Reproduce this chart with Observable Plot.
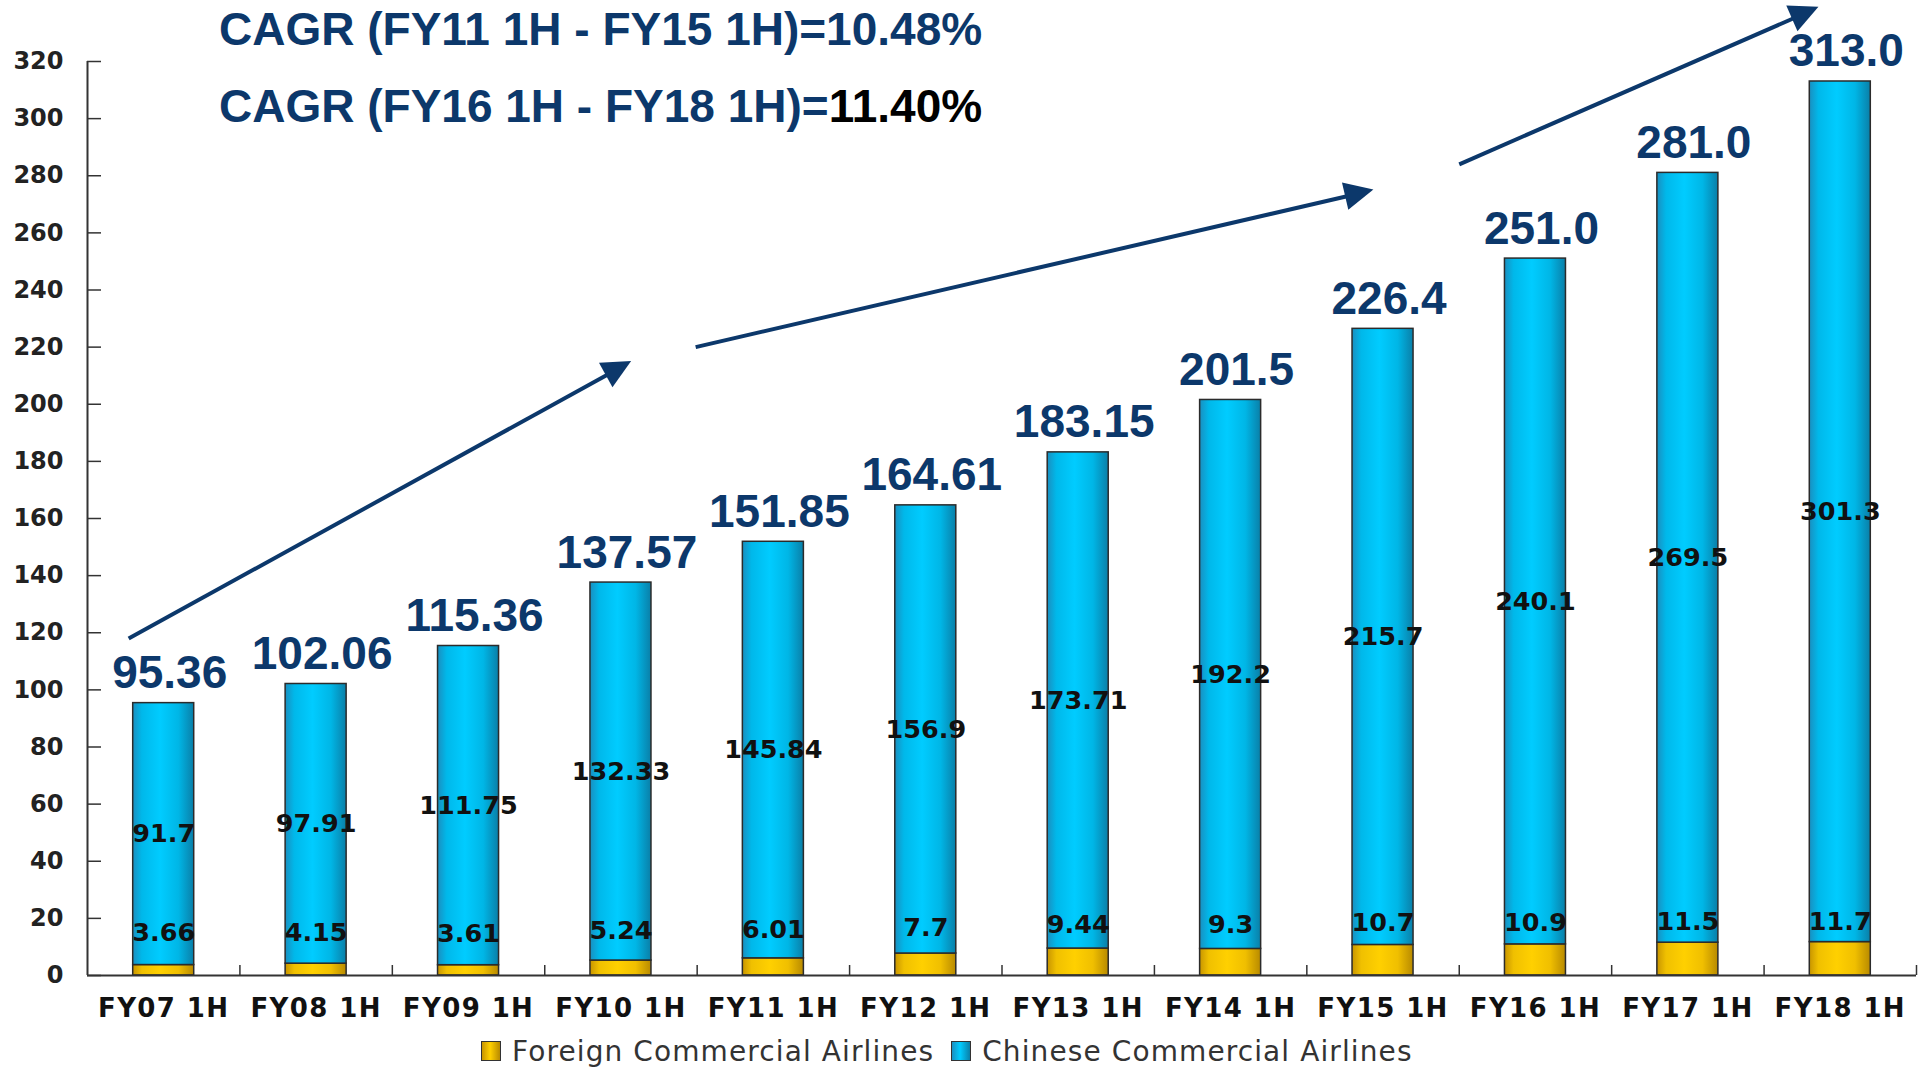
<!DOCTYPE html>
<html>
<head>
<meta charset="utf-8">
<script src="https://cdn.jsdelivr.net/npm/d3@7"></script>
<script src="https://cdn.jsdelivr.net/npm/@observablehq/plot@0.6"></script>
<style>
  body { margin: 0; background: #fff; }
  #wrap { position: relative; width: 1921px; height: 1072px; overflow: hidden; }
  .title { position: absolute; left: 219px; font-family: "Liberation Sans", Arial, sans-serif; font-weight: bold;
           font-size: 46px; line-height: 46px; color: #0c386b; white-space: nowrap; }
  #legend { position: absolute; left: 0; top: 1030px; height: 42px; display: flex; align-items: center;
            padding-left: 481px; font-family: "DejaVu Sans", sans-serif; font-size: 28px; letter-spacing: 1.1px; color: #333; }
  .sw { width: 20px; height: 20px; border: 1.5px solid #333; box-sizing: border-box; margin-right: 11px; }
  .gold { background: linear-gradient(90deg, #c89500, #ffd000 45%, #b88a00); }
  .cyan { background: linear-gradient(90deg, #1a8fc0, #00ccff 45%, #0a7fa8); }
</style>
</head>
<body>
<div id="wrap">
  <div class="title" style="top:6px">CAGR (FY11 1H - FY15 1H)=10.48%</div>
  <div class="title" style="top:83px">CAGR (FY16 1H - FY18 1H)=<span style="color:#000">11.40%</span></div>
  <div id="legend">
    <div class="sw gold"></div><span>Foreign Commercial Airlines</span>
    <div class="sw cyan" style="margin-left:17px"></div><span>Chinese Commercial Airlines</span>
  </div>
</div>
<script>
const categories = ["FY07 1H","FY08 1H","FY09 1H","FY10 1H","FY11 1H","FY12 1H","FY13 1H","FY14 1H","FY15 1H","FY16 1H","FY17 1H","FY18 1H"];
const foreign = [3.66, 4.15, 3.61, 5.24, 6.01, 7.7, 9.44, 9.3, 10.7, 10.9, 11.5, 11.7];
const chinese = [91.7, 97.91, 111.75, 132.33, 145.84, 156.9, 173.71, 192.2, 215.7, 240.1, 269.5, 301.3];
const foreignLabels = ["3.66","4.15","3.61","5.24","6.01","7.7","9.44","9.3","10.7","10.9","11.5","11.7"];
const chineseLabels = ["91.7","97.91","111.75","132.33","145.84","156.9","173.71","192.2","215.7","240.1","269.5","301.3"];
const totalLabels = ["95.36","102.06","115.36","137.57","151.85","164.61","183.15","201.5","226.4","251.0","281.0","313.0"];
const yTicks = [0,20,40,60,80,100,120,140,160,180,200,220,240,260,280,300,320];
const categoryPositions = [1,2,3,4,5,6,7,8,9,10,11,12];
const separatorPositions = [1.5,2.5,3.5,4.5,5.5,6.5,7.5,8.5,9.5,10.5,11.5,12.5];
// trend arrows, in data units (category position, value)
const arrowStartX = [0.77, 4.49, 9.5];
const arrowStartY = [118, 220, 284];
const arrowEndX = [4.07, 8.94, 11.86];
const arrowEndY = [215, 275, 339];

const rows = categories.map((c, i) => ({
  cat: c, pos: categoryPositions[i], foreign: foreign[i], chinese: chinese[i],
  total: foreign[i] + chinese[i], fl: foreignLabels[i], cl: chineseLabels[i], tl: totalLabels[i]
}));
const arrows = arrowStartX.map((x, i) => ({x1: x, y1: arrowStartY[i], x2: arrowEndX[i], y2: arrowEndY[i]}));

const NAVY = "#0c386b";

// use a condensed face for the big totals when it is installed
function hasFont(name) {
  const c = document.createElement("canvas").getContext("2d");
  const s = "0123456789.WMm";
  c.font = "bold 40px monospace"; const a = c.measureText(s).width;
  c.font = `bold 40px "${name}", monospace`; const b = c.measureText(s).width;
  return Math.abs(a - b) > 0.5;
}
const narrow = hasFont("Liberation Sans Narrow");
const totalFont = narrow ? "Liberation Sans Narrow" : "Liberation Sans";
const totalSize = narrow ? 55 : 46;

function arrowHeads(index, scales) {
  const g = d3.create("svg:g");
  for (const a of arrows) {
    const sx = scales.x(a.x1), sy = scales.y(a.y1);
    const tx = scales.x(a.x2), ty = scales.y(a.y2);
    const ang = Math.atan2(ty - sy, tx - sx);
    const L = 29, W = 14;
    const bx = tx - L * Math.cos(ang), by = ty - L * Math.sin(ang);
    const nx = -Math.sin(ang), ny = Math.cos(ang);
    g.append("path")
      .attr("d", `M${tx},${ty}L${bx + W * nx},${by + W * ny}L${bx - W * nx},${by - W * ny}Z`)
      .attr("fill", NAVY);
  }
  return g.node();
}

const chart = Plot.plot({
  width: 1921,
  height: 1030,
  marginLeft: 87,
  marginRight: 5,
  marginTop: 61,
  marginBottom: 55,
  x: {type: "linear", domain: [0.5, 12.5], axis: null},
  y: {domain: [0, 320], axis: null},
  marks: [
    Plot.rect(rows, {x1: d => d.pos - 0.5, x2: d => d.pos + 0.5, y1: d => 0, y2: "foreign",
      insetLeft: 45.7, insetRight: 45.7, fill: "url(#gradGold)", stroke: "#2b2b2b", strokeWidth: 1.5}),
    Plot.rect(rows, {x1: d => d.pos - 0.5, x2: d => d.pos + 0.5, y1: "foreign", y2: "total",
      insetLeft: 45.7, insetRight: 45.7, fill: "url(#gradCyan)", stroke: "#2b2b2b", strokeWidth: 1.5}),
    Plot.ruleY([0], {stroke: "#333", strokeWidth: 2}),
    Plot.ruleX([0.5], {y1: 0, y2: 320, stroke: "#333", strokeWidth: 2}),
    Plot.axisY(yTicks, {tickSize: -14, tickPadding: 38, stroke: "#333", strokeWidth: 1.5, fill: "#222",
      fontFamily: "DejaVu Sans", fontWeight: "bold", fontSize: 24, label: null}),
    Plot.axisX(separatorPositions, {tickSize: -10, tickFormat: () => "", stroke: "#333", strokeWidth: 1.5, label: null}),
    Plot.axisX(categoryPositions, {tickSize: 0, tickPadding: 23, tickFormat: p => categories[p - 1], fill: "#111",
      fontFamily: "DejaVu Sans", fontWeight: "bold", fontSize: 26, label: null}),
    Plot.text(rows, {x: "pos", y: d => d.foreign / 2, text: "fl", dy: -37, fill: "#111",
      fontFamily: "DejaVu Sans", fontWeight: "bold", fontSize: 25.5}),
    Plot.text(rows, {x: "pos", y: d => d.foreign + d.chinese / 2, text: "cl", fill: "#111",
      fontFamily: "DejaVu Sans", fontWeight: "bold", fontSize: 25.5}),
    Plot.text(rows, {x: "pos", y: "total", text: "tl", lineAnchor: "bottom", dy: -15, dx: 6, fill: NAVY,
      fontFamily: totalFont, fontWeight: "bold", fontSize: totalSize}),
    Plot.arrow(arrows, {x1: "x1", y1: "y1", x2: "x2", y2: "y2", stroke: NAVY, strokeWidth: 4,
      headLength: 0, insetEnd: 22, strokeLinecap: "butt"}),
    arrowHeads
  ]
});

const svg = d3.select(chart);
const defs = svg.insert("defs", ":first-child");
function grad(id, stops) {
  const lg = defs.append("linearGradient").attr("id", id).attr("x1", "0").attr("x2", "1").attr("y1", "0").attr("y2", "0");
  for (const [o, c] of stops) lg.append("stop").attr("offset", o).attr("stop-color", c);
}
grad("gradCyan", [["0%", "#1a8fc0"], ["15%", "#00b8ea"], ["45%", "#00ccff"], ["75%", "#00b6e6"], ["100%", "#0a7fa8"]]);
grad("gradGold", [["0%", "#c89500"], ["15%", "#f0c000"], ["45%", "#ffd000"], ["75%", "#f0bf00"], ["100%", "#b88a00"]]);
svg.selectAll("[aria-label='x-axis tick label'] text").attr("letter-spacing", "1.4px");

document.getElementById("wrap").prepend(chart);
</script>
</body>
</html>
